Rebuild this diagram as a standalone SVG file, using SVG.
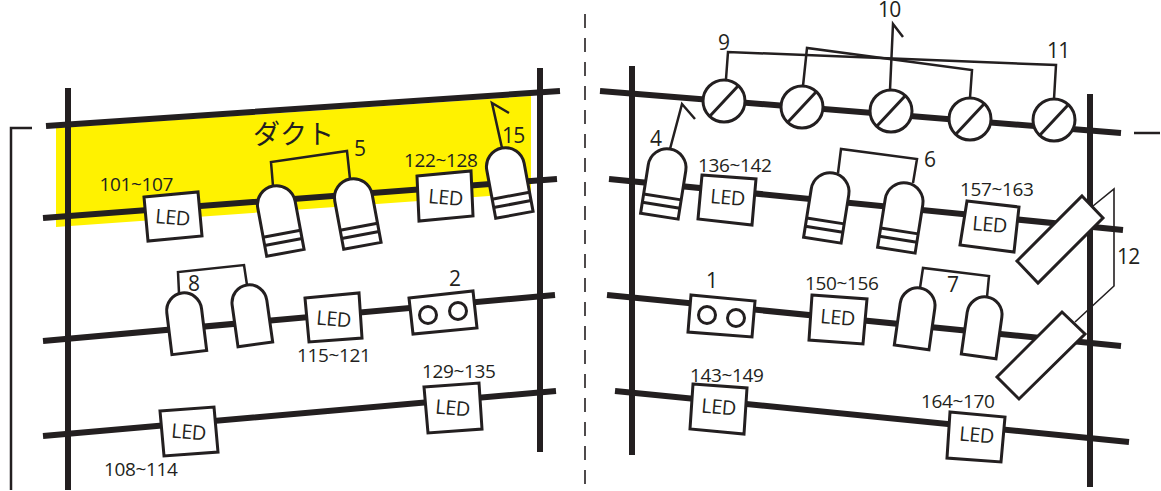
<svg xmlns="http://www.w3.org/2000/svg" width="1161" height="491" viewBox="0 0 1161 491">
<style>
.beam{fill:none;stroke:#231f20;stroke-width:6}
.wire{fill:none;stroke:#231f20;stroke-width:2.5}
.thin{fill:none;stroke:#231f20;stroke-width:1.6}
.shape{fill:#fff;stroke:#231f20;stroke-width:3;stroke-linejoin:miter}
.mark{fill:none;stroke:#231f20;stroke-width:3}
.lab{font-family:"Open Sans","Noto Sans",sans-serif;font-size:19px;letter-spacing:-.35px;fill:#231f20}
.num{font-size:21px;letter-spacing:-.8px}
.led{font-size:20px;letter-spacing:-.5px;text-anchor:middle}
.jp{font-family:"Noto Sans CJK JP",sans-serif;font-size:27px;fill:#231f20}
</style>
<defs>
<g id="lensBand">
<path class="shape" d="M-19,68V19A19,19 0 0 1 19,19V68Z"/>
<path class="mark" d="M-19,48.5H19M-19,57H19"/>
</g>
<path id="lensShort" class="shape" d="M-17.5,60V18A17.5,18 0 0 1 17.5,18V60Z"/>
<g id="switch">
<circle class="shape" r="21"/>
<path class="mark" d="M-14,15L14,-15"/>
</g>
</defs>
<polygon id="duct" fill="#fff200" points="56,128 531,96 531,193 56,227"/>
<g id="connectors">
<path class="beam" d="M68,88V490M540,68V452M632,66V455M1090,94V487"/>
<path class="beam" d="M46,126L560,91M43,218L557,179M43,341L555,295M43,436L556,391"/>
<path class="beam" d="M600,91L1121,133M609,179L1123,230M607,295L1121,346M615,391L1129,442"/>
<path class="wire" d="M32,128H11V490"/>
<path class="wire" d="M1134,133H1160"/>
<path class="thin" d="M585,14V490" stroke-dasharray="14 10"/>
<path class="wire" d="M273,186L271,162L347,151L350,179"/>
<path class="wire" d="M502,148L492,103L509,113"/>
<path class="wire" d="M179,293L178,272L244,265L247,285"/>
<path class="wire" d="M726,79L728,52L1056,65L1054,99"/>
<path class="wire" d="M803,86L807,48L972,70L970,98"/>
<path class="wire" d="M890,90L893,24L903,37"/>
<path class="wire" d="M670,149L682,104L695,119"/>
<path class="wire" d="M838,173L841,149L917,159L913,183"/>
<path class="wire" d="M920,288L923,268L989,276L987,297"/>
<path class="thin" d="M1075,322L1114,286V189L1093,206"/>
</g>
<g id="sw9"><use href="#switch" x="724" y="101"/></g>
<g id="sw9b"><use href="#switch" x="802" y="107"/></g>
<g id="sw10"><use href="#switch" x="891" y="111"/></g>
<g id="sw11a"><use href="#switch" x="970" y="119"/></g>
<g id="sw11"><use href="#switch" x="1054" y="120"/></g>
<g id="lens5a"><use href="#lensBand" transform="translate(273,186) rotate(-10.5)"/></g>
<g id="lens5b"><use href="#lensBand" transform="translate(350,179) rotate(-10.5)"/></g>
<g id="lens15"><use href="#lensBand" transform="translate(502,148) rotate(-10.5)"/></g>
<g id="lens4"><use href="#lensBand" transform="translate(670,149) rotate(9)"/></g>
<g id="lens6a"><use href="#lensBand" transform="translate(833,173) rotate(9)"/></g>
<g id="lens6b"><use href="#lensBand" transform="translate(907,183) rotate(9)"/></g>
<g id="lens8a"><use href="#lensShort" transform="translate(182,293) rotate(-7)"/></g>
<g id="lens8b"><use href="#lensShort" transform="translate(247,285) rotate(-8)"/></g>
<g id="lens7a"><use href="#lensShort" transform="translate(920,288) rotate(8)"/></g>
<g id="lens7b"><use href="#lensShort" transform="translate(987,297) rotate(8)"/></g>
<g id="led101"><polygon class="shape" points="144,197 198,192 202,236 148,241"/><text class="lab led" transform="translate(172,224.5) rotate(5)">LED</text></g>
<g id="led122"><polygon class="shape" points="417,176 471,171 473,216 419,221"/><text class="lab led" transform="translate(445,204.5) rotate(5)">LED</text></g>
<g id="led115"><polygon class="shape" points="305,298 359,293 362,338 309,342"/><text class="lab led" transform="translate(333,326) rotate(5)">LED</text></g>
<g id="led129"><polygon class="shape" points="424,387 479,383 482,429 428,433"/><text class="lab led" transform="translate(452,415) rotate(5)">LED</text></g>
<g id="led108"><polygon class="shape" points="160,411 214,407 218,452 164,456"/><text class="lab led" transform="translate(188,439) rotate(5)">LED</text></g>
<g id="led136"><polygon class="shape" points="702,175 756,179 752,225 698,219"/><text class="lab led" transform="translate(727,204.5) rotate(5)">LED</text></g>
<g id="led157"><polygon class="shape" points="967,201 1019,207 1014,252 960,245"/><text class="lab led" transform="translate(989,231.5) rotate(5)">LED</text></g>
<g id="led150"><polygon class="shape" points="812,295 867,299 863,344 809,340"/><text class="lab led" transform="translate(837,324.5) rotate(5)">LED</text></g>
<g id="led143"><polygon class="shape" points="693,384 747,388 744,434 690,429"/><text class="lab led" transform="translate(718,414) rotate(5)">LED</text></g>
<g id="led164"><polygon class="shape" points="950,412 1005,417 1001,462 947,458"/><text class="lab led" transform="translate(976,442) rotate(5)">LED</text></g>
<g id="box2"><polygon class="shape" points="409,298 473,291 477,328 413,334"/><circle class="shape" cx="428" cy="315" r="8.5"/><circle class="shape" cx="458" cy="311" r="8.5"/></g>
<g id="box1"><polygon class="shape" points="691,295 755,301 752,337 688,332"/><circle class="shape" cx="707" cy="315" r="8.5"/><circle class="shape" cx="736" cy="318" r="8.5"/></g>
<g id="bar12a"><polygon class="shape" points="1082,196 1103,218 1038,283 1017,261"/></g>
<g id="bar12b"><polygon class="shape" points="1062,312 1085,334 1019,399 997,377"/></g>
<g id="labels">
<text class="jp" x="253" y="144">ダクト</text>
<text class="lab" x="99.5" y="191">101~107</text>
<text class="lab" x="404" y="167">122~128</text>
<text class="lab" x="297" y="362">115~121</text>
<text class="lab" x="422" y="378">129~135</text>
<text class="lab" x="104" y="476">108~114</text>
<text class="lab" x="698" y="172">136~142</text>
<text class="lab" x="960" y="196">157~163</text>
<text class="lab" x="805" y="290">150~156</text>
<text class="lab" x="690" y="382">143~149</text>
<text class="lab" x="921" y="408">164~170</text>
<text class="lab num" x="354" y="156">5</text>
<text class="lab num" x="502" y="143">15</text>
<text class="lab num" x="188" y="291">8</text>
<text class="lab num" x="449" y="286">2</text>
<text class="lab num" x="718" y="50">9</text>
<text class="lab num" x="650" y="146">4</text>
<text class="lab num" x="878" y="17">10</text>
<text class="lab num" x="1047" y="58">11</text>
<text class="lab num" x="924" y="167">6</text>
<text class="lab num" x="1117" y="264">12</text>
<text class="lab num" x="947" y="292">7</text>
<text class="lab num" x="706" y="288">1</text>
</g>
</svg>
